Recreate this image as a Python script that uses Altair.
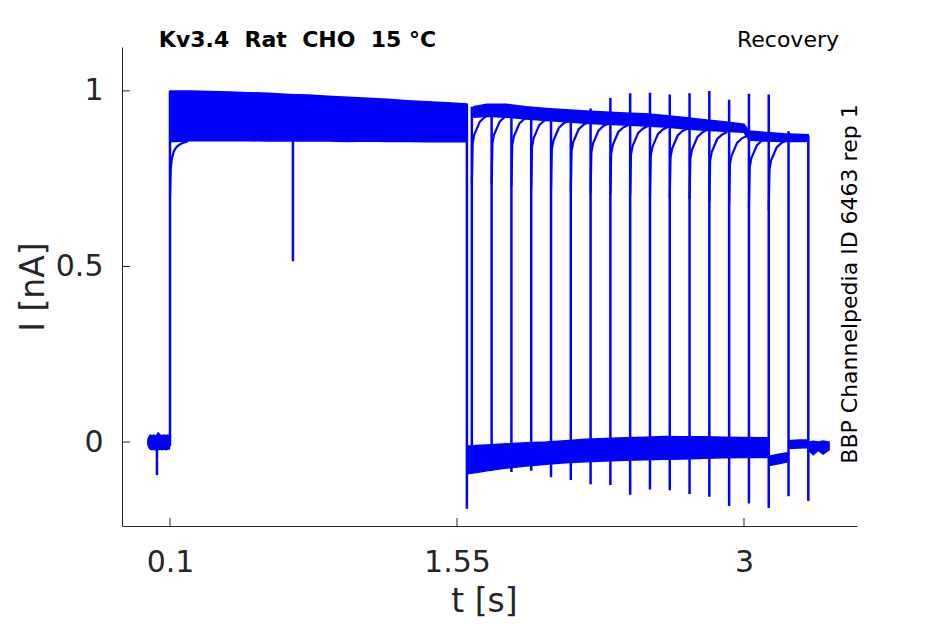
import altair as alt
import pandas as pd

BLUE = "#0000ff"
INK = "#262626"
FONT = "DejaVu Sans"

# ---------------- axis ticks ----------------
x_ticks = [0.1, 1.55, 3]
y_ticks = [0, 0.5, 1]

# ---------------- text ----------------
title_text = "Kv3.4\u00a0\u00a0Rat\u00a0\u00a0CHO\u00a0\u00a015\u00a0°C"
protocol_text = "Recovery"
source_text = "BBP Channelpedia ID 6463 rep 1"

# ---------------- noise bands (envelopes) ----------------
# holding current before the conditioning step
base_t = [-0.012, -0.006, 0.0, 0.01, 0.02, 0.03, 0.04, 0.05, 0.06, 0.07, 0.08, 0.09, 0.097]
base_hi = [0.006, 0.015, 0.02, 0.018, 0.02, 0.016, 0.026, 0.02, 0.018, 0.02, 0.018, 0.02, 0.018]
base_lo = [-0.006, -0.016, -0.02, -0.022, -0.02, -0.024, -0.022, -0.02, -0.022, -0.02, -0.022, -0.02, -0.02]

# conditioning step 0.1 - 1.6 s (all sweeps overlaid)
pre_t = [0.1, 0.2, 0.3, 0.4, 0.5, 0.6, 0.7, 0.8, 0.9, 1.0, 1.1, 1.2, 1.3, 1.4, 1.5, 1.6]
pre_hi = [1.0, 1.0, 0.998, 0.997, 0.995, 0.993, 0.99, 0.988, 0.985, 0.982, 0.979, 0.976, 0.972, 0.969, 0.966, 0.963]
pre_lo = [0.855, 0.858, 0.859, 0.858, 0.858, 0.857, 0.858, 0.857, 0.857, 0.856, 0.857, 0.856, 0.856, 0.855, 0.856, 0.855]

# recovery interval at holding potential (sweeps waiting for the test pulse)
low_t = [1.6, 1.65, 1.7, 1.8, 1.9, 2.0, 2.1, 2.2, 2.3, 2.4, 2.5, 2.6, 2.7, 2.8, 2.9, 3.0, 3.1, 3.125]
low_hi = [-0.012, -0.01, -0.008, -0.005, -0.002, 0.0, 0.004, 0.008, 0.01, 0.012, 0.014, 0.016, 0.015, 0.015, 0.014, 0.013, 0.012, 0.012]
low_lo = [-0.09, -0.087, -0.082, -0.074, -0.068, -0.063, -0.059, -0.056, -0.054, -0.052, -0.05, -0.049, -0.048, -0.046, -0.045, -0.044, -0.044, -0.044]

# tail of the last sweeps after their test pulses
post1_t = [3.127, 3.175, 3.223]
post1_hi = [-0.04, -0.035, -0.03]
post1_lo = [-0.067, -0.062, -0.056]
post2_t = [3.227, 3.275, 3.323]
post2_hi = [0.004, 0.006, 0.006]
post2_lo = [-0.018, -0.017, -0.016]
post3_t = [3.327, 3.35, 3.375, 3.4, 3.43]
post3_hi = [0.0, 0.002, 0.0, 0.003, 0.0]
post3_lo = [-0.024, -0.036, -0.024, -0.034, -0.022]

# test-pulse plateau (overlaid sweeps)
top_t = [1.635, 1.7, 1.8, 1.9, 2.0, 2.1, 2.2, 2.3, 2.4, 2.5, 2.6, 2.7, 2.8, 2.9, 3.0, 3.025, 3.1, 3.2, 3.325]
top_hi = [0.955, 0.962, 0.962, 0.955, 0.95, 0.946, 0.943, 0.94, 0.937, 0.935, 0.93, 0.924, 0.918, 0.912, 0.905, 0.886, 0.882, 0.878, 0.875]
top_lo = [0.925, 0.928, 0.925, 0.92, 0.916, 0.912, 0.908, 0.905, 0.903, 0.9, 0.897, 0.892, 0.888, 0.885, 0.882, 0.86, 0.857, 0.856, 0.856]

# ---------------- test-pulse onsets and recovery ----------------
onset_t = [1.625, 1.725, 1.825, 1.925, 2.025, 2.125, 2.225, 2.325,
           2.425, 2.525, 2.625, 2.725, 2.825, 2.925, 3.025, 3.125]
onset_level = [0.935, 0.935, 0.93, 0.925, 0.918, 0.914, 0.91, 0.906,
               0.903, 0.9, 0.896, 0.892, 0.886, 0.875, 0.868, 0.862]
rise_dt = [0.0, 0.004, 0.012, 0.025, 0.04, 0.065, 0.09]
rise_drop = [0.2, 0.085, 0.06, 0.043, 0.023, 0.01, 0.003]

# rise at the start of the conditioning step (slowest sweep)
step_rise_t = [0.1, 0.104, 0.11, 0.118, 0.13, 0.145, 0.165, 0.19]
step_rise_i = [0.7, 0.78, 0.808, 0.826, 0.838, 0.846, 0.852, 0.856]

# ---------------- vertical transitions / capacitive spikes ----------------
event_t = [0.034, 0.1, 0.721, 1.6, 1.625, 1.725, 1.825, 1.925, 2.025, 2.125, 2.225, 2.325,
           2.425, 2.525, 2.625, 2.725, 2.825, 2.925, 3.025, 3.125, 3.225, 3.325]
event_lo = [-0.094, -0.012, 0.515, -0.19, -0.085, -0.082, -0.085, -0.082, -0.1, -0.108, -0.12, -0.122,
            -0.15, -0.135, -0.137, -0.148, -0.156, -0.182, -0.175, -0.188, -0.154, -0.168]
event_hi = [-0.015, 1.0, 0.86, 0.963, 0.955, 0.96, 0.956, 0.952, 0.948, 0.945, 0.95, 0.98,
            0.993, 0.995, 0.99, 0.993, 1.0, 0.975, 0.992, 0.99, 0.885, 0.872]

# ---------------- tables ----------------
band_rows = []
for name, ts, los, his in [("base", base_t, base_lo, base_hi), ("pre", pre_t, pre_lo, pre_hi),
                           ("low", low_t, low_lo, low_hi), ("post1", post1_t, post1_lo, post1_hi),
                           ("post2", post2_t, post2_lo, post2_hi), ("post3", post3_t, post3_lo, post3_hi),
                           ("top", top_t, top_lo, top_hi)]:
    for t, lo, hi in zip(ts, los, his):
        band_rows.append({"seg": name, "t": t, "I": lo, "I2": hi})
bands = pd.DataFrame(band_rows)

rise_rows = []
for k, (o, lvl) in enumerate(zip(onset_t, onset_level)):
    for dt, dr in zip(rise_dt, rise_drop):
        rise_rows.append({"sweep": f"s{k}", "t": o + dt, "I": lvl - dr})
for t, i in zip(step_rise_t, step_rise_i):
    rise_rows.append({"sweep": "step", "t": t, "I": i})
rises = pd.DataFrame(rise_rows)

events = pd.DataFrame({"t": event_t, "I": event_lo, "I2": event_hi})
xt = pd.DataFrame({"t": x_ticks})
yt = pd.DataFrame({"I": y_ticks})

x_scale = alt.Scale(domain=[-0.1425, 3.571], nice=False, zero=False)
y_scale = alt.Scale(domain=[-0.239, 1.125], nice=False, zero=False)

x_axis = alt.Axis(values=x_ticks, format=".3~g", title="t [s]", ticks=False, tickSize=0,
                  grid=False, domainColor=INK, domainWidth=1, labelFont=FONT, labelFontSize=30,
                  labelColor=INK, labelPadding=21, labelBaseline="top",
                  titleFont=FONT, titleFontSize=33, titleFontWeight="normal", titleColor=INK,
                  titleX=362, titleY=85, titleBaseline="alphabetic", titleAlign="center")
y_axis = alt.Axis(values=y_ticks, format=".3~g", title="I [nA]", ticks=False, tickSize=0,
                  grid=False, domainColor=INK, domainWidth=1, labelFont=FONT, labelFontSize=30,
                  labelColor=INK, labelPadding=19,
                  titleFont=FONT, titleFontSize=33, titleFontWeight="normal", titleColor=INK,
                  titleX=-89, titleY=239.5, titleAngle=270, titleBaseline="middle", titleAlign="center")

X = alt.X("t:Q", scale=x_scale, axis=x_axis)
Y = alt.Y("I:Q", scale=y_scale, axis=y_axis)

band_layer = alt.Chart(bands).mark_area(color=BLUE, stroke=BLUE, strokeWidth=1.5, opacity=1).encode(
    x=X, y=Y, y2="I2:Q", detail="seg:N",
)

rise_layer = alt.Chart(rises).mark_line(color=BLUE, strokeWidth=2.2).encode(
    x=X, y=Y, detail="sweep:N",
)

event_layer = alt.Chart(events).mark_rule(color=BLUE, strokeWidth=2.5).encode(
    x=X, y=Y, y2="I2:Q",
)

xtick_layer = alt.Chart(xt).mark_rule(color=INK, strokeWidth=1).encode(
    x=X, y=alt.value(479), y2=alt.value(471),
)
ytick_layer = alt.Chart(yt).mark_rule(color=INK, strokeWidth=1).encode(
    y=Y, x=alt.value(0), x2=alt.value(8),
)

title_layer = alt.Chart(pd.DataFrame({"label": [title_text]})).mark_text(
    font=FONT, fontSize=22, fontWeight="bold", color="black", align="center", baseline="alphabetic"
).encode(text="label:N", x=alt.value(175.5), y=alt.value(0))

proto_layer = alt.Chart(pd.DataFrame({"label": [protocol_text]})).mark_text(
    font=FONT, fontSize=22, color="black", align="right", baseline="alphabetic"
).encode(text="label:N", x=alt.value(717), y=alt.value(0))

source_layer = alt.Chart(pd.DataFrame({"label": [source_text]})).mark_text(
    font=FONT, fontSize=22, color="black", align="center", baseline="middle", angle=270
).encode(text="label:N", x=alt.value(728), y=alt.value(237))

chart = alt.layer(
    band_layer, rise_layer, event_layer, xtick_layer, ytick_layer,
    title_layer, proto_layer, source_layer,
).properties(
    width=735, height=479,
    autosize=alt.AutoSizeParams(type="none"),
    padding={"left": 114, "top": 39, "right": 80, "bottom": 96},
).configure(background="white").configure_view(stroke=None)

chart.save("out.html", embed_options={"renderer": "svg", "actions": False})
